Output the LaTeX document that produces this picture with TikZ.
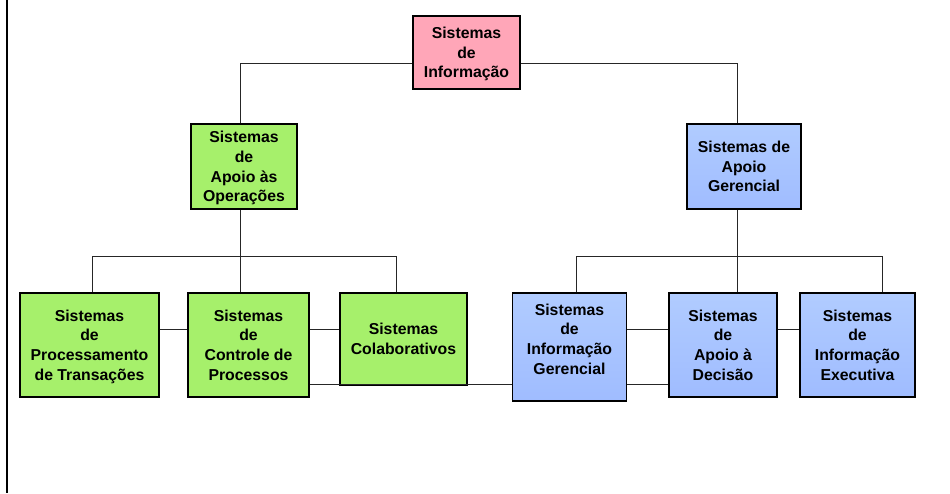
\documentclass[tikz,border=0pt]{standalone}
\usepackage{fontspec}
\setmainfont{Liberation Sans}
\definecolor{rootpink}{HTML}{FFA6B8}
\definecolor{opgreen}{HTML}{A6F06B}
\definecolor{mgblue}{HTML}{A8C6FF}
\begin{document}
\begin{tikzpicture}[x=1pt,y=-1pt,
  sysbox/.style={draw=black, line width=1.2pt, align=center, inner sep=0pt, text depth=0pt,
    font=\fontsize{15.8}{19.6}\selectfont\bfseries},
  pinkbox/.style={sysbox, fill=rootpink},
  greenbox/.style={sysbox, fill=opgreen},
  bluebox/.style={sysbox, top color=mgblue!90!white, bottom color=mgblue!95!blue},
  link/.style={line width=1pt, black!85}]
\useasboundingbox (0,0) rectangle (950,493);

% page edge
\draw[line width=2.6pt] (7,0) -- (7,493);

% Top
\node[pinkbox, minimum width=107, minimum height=73] (si) at (466.5,52.5) {Sistemas\\de\\Informação};

% Level 2
\node[greenbox, minimum width=106, minimum height=85] (sao) at (244,166.5) {Sistemas\\de\\Apoio às\\Operações};
\node[bluebox, minimum width=114, minimum height=85] (sag) at (744,166.5) {Sistemas de\\Apoio\\Gerencial};

% Level 3 - operacoes
\node[greenbox, minimum width=139, minimum height=104] (stp) at (89.5,345) {Sistemas\\de\\Processamento\\de Transações};
\node[greenbox, minimum width=121, minimum height=104] (scp) at (248.5,345) {Sistemas\\de\\Controle de\\Processos};
\node[greenbox, minimum width=127, minimum height=92] (sc) at (403.5,339) {Sistemas\\Colaborativos};

% Level 3 - gerencial
\node[bluebox, minimum width=114, minimum height=108, text depth=16pt] (sig) at (569.5,347) {Sistemas\\de\\Informação\\Gerencial};
\node[bluebox, minimum width=108, minimum height=104] (sad) at (723,345) {Sistemas\\de\\Apoio à\\Decisão};
\node[bluebox, minimum width=115, minimum height=104] (sie) at (857.5,345) {Sistemas\\de\\Informação\\Executiva};

% tree lines
\draw[link] ([xshift=-4pt]sao.north) |- ([yshift=-10.5pt]si.west);
\draw[link] ([yshift=-10.5pt]si.east) -| ([xshift=-7pt]sag.north);

\draw[link] ([xshift=-4pt]sao.south) -- ([xshift=-8.5pt]scp.north);
\draw[link] ([xshift=2.5pt]stp.north) |- ([xshift=-7.5pt,yshift=36pt]sc.north) -- ([xshift=-7.5pt]sc.north);

\draw[link] ([xshift=-7pt]sag.south) -- ([xshift=14pt]sad.north);
\draw[link] ([xshift=6.5pt]sig.north) |- ([xshift=24.5pt,yshift=36pt]sie.north) -- ([xshift=24.5pt]sie.north);

% side links
\draw[link] ([yshift=16pt]stp.east) -- ([yshift=16pt]scp.west);
\draw[link] ([yshift=16pt]scp.east) -- ([yshift=16pt]scp.east -| sc.west);
\draw[link] ([yshift=-39pt]scp.east) -- ([yshift=-39pt]scp.east -| sig.west);
\draw[link] ([yshift=16pt]sad.west -| sig.east) -- ([yshift=16pt]sad.west);
\draw[link] ([yshift=-39pt]sad.west -| sig.east) -- ([yshift=-39pt]sad.west);
\draw[link] ([yshift=16pt]sad.east) -- ([yshift=16pt]sie.west);
\end{tikzpicture}
\end{document}
